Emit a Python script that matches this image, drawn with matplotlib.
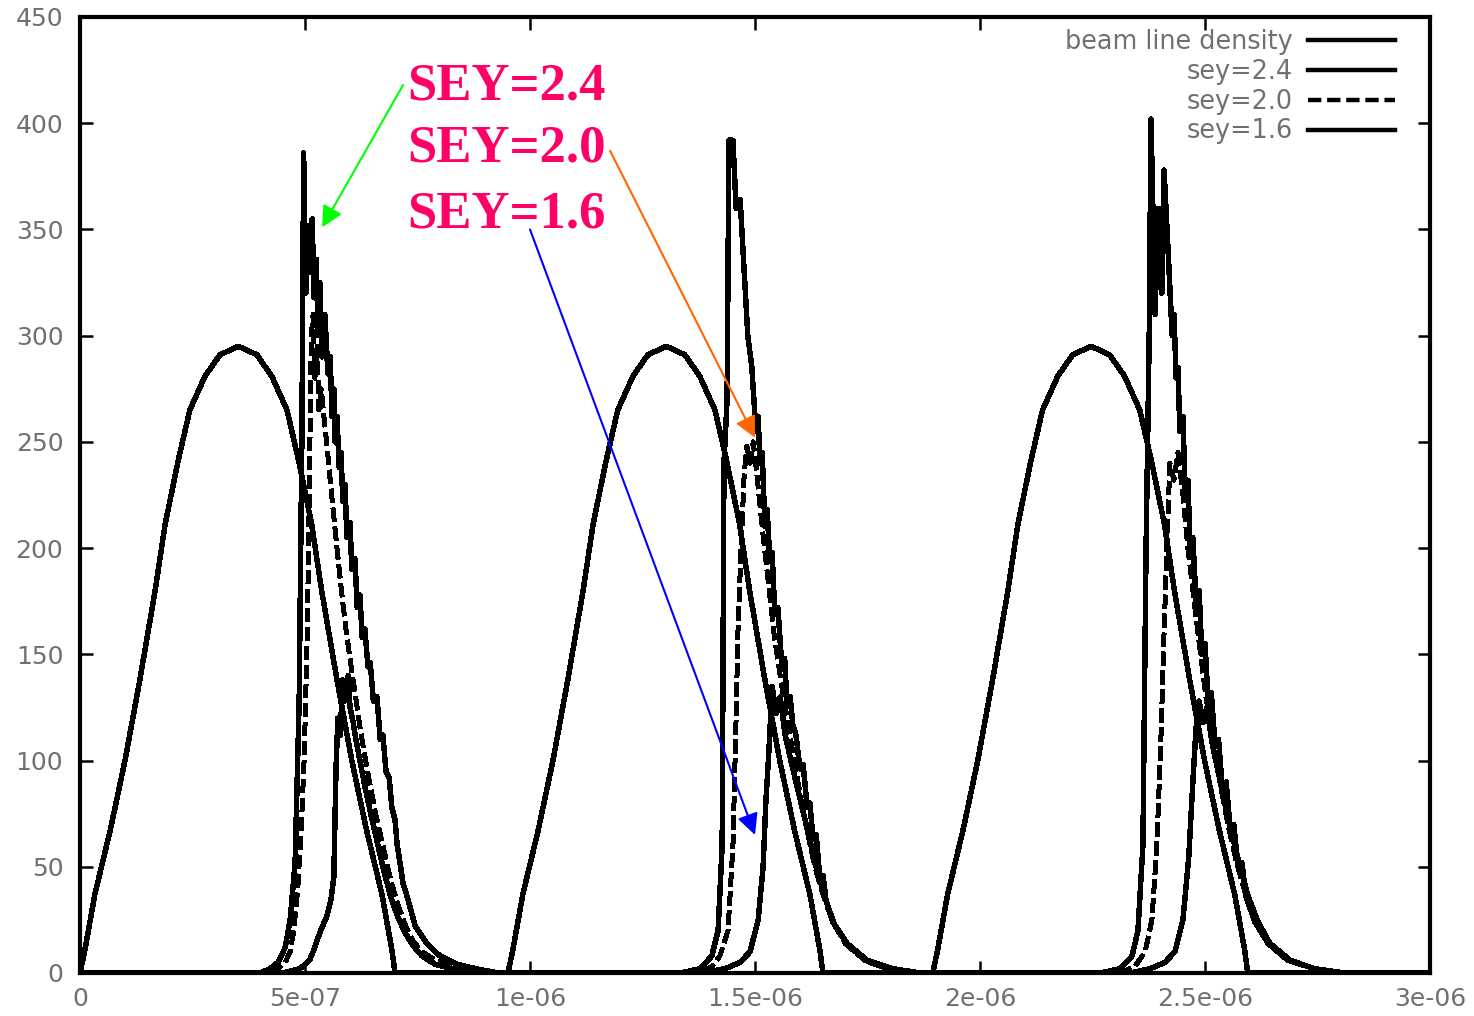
import numpy as np
import matplotlib
matplotlib.use("Agg")
import matplotlib.pyplot as plt

# times in microseconds, line density in arbitrary units
beam_t = [0.000, 0.011, 0.033, 0.067, 0.100, 0.133, 0.167, 0.189, 0.218, 0.244, 0.278, 0.311, 0.352,
          0.393, 0.426, 0.460, 0.486, 0.515, 0.537, 0.571, 0.604, 0.637, 0.671, 0.693, 0.700,
          0.951, 0.962, 0.984, 1.018, 1.051, 1.084, 1.118, 1.140, 1.169, 1.195, 1.229, 1.262, 1.303,
          1.344, 1.377, 1.411, 1.437, 1.466, 1.488, 1.522, 1.555, 1.588, 1.622, 1.644, 1.651,
          1.895, 1.906, 1.928, 1.962, 1.995, 2.028, 2.062, 2.084, 2.113, 2.139, 2.173, 2.206, 2.247,
          2.288, 2.321, 2.355, 2.381, 2.410, 2.432, 2.466, 2.499, 2.532, 2.566, 2.588, 2.595, 3.0]
beam_v = [0, 11, 37, 67, 100, 138, 180, 211, 241, 265, 281, 291, 295,
          291, 281, 265, 241, 211, 180, 138, 100, 67, 37, 11, 0,
          0, 11, 37, 67, 100, 138, 180, 211, 241, 265, 281, 291, 295,
          291, 281, 265, 241, 211, 180, 138, 100, 67, 37, 11, 0,
          0, 11, 37, 67, 100, 138, 180, 211, 241, 265, 281, 291, 295,
          291, 281, 265, 241, 211, 180, 138, 100, 67, 37, 11, 0, 0]

sey24_t = [0.0, 0.400, 0.422, 0.440, 0.456, 0.467, 0.478, 0.487, 0.493, 0.497, 0.502, 0.506, 0.511,
           0.516, 0.520, 0.525, 0.529, 0.533, 0.538, 0.544, 0.551, 0.556, 0.560, 0.564, 0.567, 0.571,
           0.576, 0.580, 0.584, 0.589, 0.593, 0.600, 0.604, 0.611, 0.616, 0.622, 0.627, 0.633, 0.640,
           0.645, 0.652, 0.660, 0.667, 0.673, 0.680, 0.687, 0.693, 0.700, 0.705, 0.711, 0.718, 0.727,
           0.745, 0.770, 0.800, 0.840, 0.880, 0.930,
           1.333, 1.378, 1.404, 1.418, 1.427, 1.431, 1.438, 1.442, 1.451, 1.458, 1.467, 1.476, 1.484,
           1.493, 1.502, 1.507, 1.511, 1.516, 1.522, 1.527, 1.533, 1.538, 1.544, 1.551, 1.560, 1.566,
           1.571, 1.578, 1.584, 1.591, 1.600, 1.607, 1.616, 1.622, 1.629, 1.636, 1.644, 1.651, 1.658,
           1.673, 1.704, 1.749, 1.807, 1.867,
           2.267, 2.311, 2.338, 2.351, 2.362, 2.369, 2.376, 2.380, 2.389, 2.396, 2.404, 2.409, 2.418,
           2.427, 2.431, 2.436, 2.440, 2.444, 2.451, 2.456, 2.462, 2.467, 2.473, 2.480, 2.487, 2.493,
           2.500, 2.507, 2.514, 2.522, 2.530, 2.538, 2.547, 2.556, 2.564, 2.573, 2.582, 2.591,
           2.611, 2.640, 2.684, 2.744, 2.811, 3.0]
sey24_v = [0, 0, 2, 5, 12, 25, 52, 128, 250, 386, 320, 352, 330,
           355, 318, 336, 300, 325, 290, 310, 282, 290, 262, 275, 250, 262,
           238, 245, 222, 230, 205, 212, 190, 195, 172, 178, 158, 162, 144,
           146, 128, 130, 110, 112, 95, 92, 78, 72, 60, 52, 42, 36,
           22, 14, 8, 4, 2, 0,
           0, 2, 8, 20, 60, 240, 270, 392, 392, 360, 364, 330, 300,
           285, 255, 262, 240, 245, 210, 218, 194, 198, 169, 172, 143, 148,
           127, 130, 117, 112, 96, 98, 78, 80, 63, 65, 45, 46, 34,
           24, 14, 6, 2, 0,
           0, 2, 8, 20, 60, 200, 300, 402, 310, 360, 320, 378, 340,
           300, 310, 280, 285, 255, 262, 225, 232, 200, 205, 175, 180, 150,
           155, 128, 132, 108, 110, 88, 90, 68, 70, 50, 52, 36,
           24, 14, 6, 2, 0, 0]

sey20_t = [0.0, 0.420, 0.440, 0.456, 0.467, 0.475, 0.484, 0.492, 0.498, 0.504, 0.508, 0.511, 0.514,
           0.518, 0.522, 0.527, 0.531, 0.536, 0.542, 0.549, 0.556, 0.564, 0.573, 0.582, 0.591, 0.600,
           0.611, 0.622, 0.633, 0.645, 0.658, 0.673, 0.689, 0.705, 0.722, 0.740, 0.760, 0.790, 0.830,
           0.870, 0.920,
           1.378, 1.404, 1.422, 1.440, 1.451, 1.458, 1.462, 1.469, 1.476, 1.482, 1.489, 1.496, 1.504,
           1.516, 1.529, 1.542, 1.556, 1.571, 1.587, 1.602, 1.618, 1.633, 1.651, 1.671, 1.700, 1.744,
           1.800, 1.856,
           2.311, 2.344, 2.367, 2.382, 2.393, 2.402, 2.409, 2.416, 2.422, 2.431, 2.440, 2.451, 2.462,
           2.476, 2.489, 2.502, 2.518, 2.533, 2.551, 2.569, 2.589, 2.611, 2.640, 2.684, 2.744, 2.800, 3.0]
sey20_v = [0, 0, 2, 5, 10, 20, 40, 70, 100, 150, 200, 250, 300,
           310, 280, 295, 265, 275, 262, 248, 232, 215, 196, 178, 162, 148,
           132, 116, 102, 88, 74, 60, 45, 33, 23, 15, 10, 6, 3,
           1, 0,
           0, 3, 8, 20, 60, 120, 160, 200, 235, 248, 240, 250, 235,
           210, 185, 160, 140, 120, 100, 82, 65, 50, 37, 25, 14, 6,
           2, 0,
           0, 3, 10, 25, 60, 110, 160, 205, 240, 232, 245, 225, 200,
           175, 152, 130, 110, 90, 70, 53, 38, 25, 14, 6, 2, 0, 0]

sey16_t = [0.0, 0.450, 0.489, 0.510, 0.518, 0.533, 0.549, 0.558, 0.564, 0.569, 0.573, 0.578, 0.584,
           0.589, 0.596, 0.600, 0.607, 0.613, 0.622, 0.633, 0.645, 0.658, 0.673, 0.689, 0.705, 0.722,
           0.740, 0.760, 0.790, 0.830, 0.870, 0.920,
           1.378, 1.433, 1.467, 1.489, 1.507, 1.518, 1.524, 1.531, 1.538, 1.547, 1.556, 1.567, 1.582,
           1.600, 1.618, 1.636, 1.656, 1.678, 1.711, 1.756, 1.811, 1.856,
           2.333, 2.378, 2.411, 2.433, 2.451, 2.464, 2.473, 2.480, 2.487, 2.496, 2.504, 2.516, 2.529,
           2.544, 2.560, 2.578, 2.596, 2.618, 2.644, 2.689, 2.744, 2.800, 3.0]
sey16_v = [0, 0, 2, 6, 10, 19, 27, 35, 45, 97, 120, 112, 138,
           128, 140, 125, 118, 110, 100, 88, 76, 64, 50, 37, 27, 19,
           13, 8, 4, 2, 1, 0,
           0, 2, 5, 10, 25, 50, 80, 105, 135, 122, 130, 112, 98,
           82, 66, 50, 35, 22, 12, 5, 1, 0,
           0, 2, 5, 10, 25, 55, 90, 115, 128, 118, 125, 108, 95,
           80, 65, 50, 36, 24, 14, 6, 2, 0, 0]

labels = ["beam line density", "sey=2.4", "sey=2.0", "sey=1.6"]
xtick_vals = [0, 5e-07, 1e-06, 1.5e-06, 2e-06, 2.5e-06, 3e-06]
xtick_labels = ["0", "5e-07", "1e-06", "1.5e-06", "2e-06", "2.5e-06", "3e-06"]
ytick_vals = [0, 50, 100, 150, 200, 250, 300, 350, 400, 450]

fig = plt.figure(figsize=(14.74, 10.16), dpi=100)
ax = fig.add_axes([80 / 1474, 43 / 1016, 1350 / 1474, 956 / 1016])

us = 1e-6
lw = 3.2
ax.plot(np.array(beam_t) * us, beam_v, color="black", lw=lw, label=labels[0], antialiased=False)
ax.plot(np.array(sey24_t) * us, sey24_v, color="black", lw=lw, label=labels[1], antialiased=False)
ax.plot(np.array(sey20_t) * us, sey20_v, color="black", lw=lw, label=labels[2],
        linestyle=(0, (3, 1.3)), dash_capstyle="butt", antialiased=False)
ax.plot(np.array(sey16_t) * us, sey16_v, color="black", lw=lw, label=labels[3], antialiased=False)

ax.set_xlim(0, 3e-06)
ax.set_ylim(0, 450)
ax.set_xticks(xtick_vals)
ax.set_xticklabels(xtick_labels)
ax.set_yticks(ytick_vals)
ax.tick_params(direction="in", length=9, width=1.8, top=True, right=True,
               labelsize=18, labelcolor="#707070", color="black")
ax.tick_params(axis="y", pad=12)
ax.tick_params(axis="x", pad=10)
for s in ax.spines.values():
    s.set_linewidth(3)

leg = ax.legend(loc="upper right", bbox_to_anchor=(1395 / 1474, 1 - 29 / 1016),
                bbox_transform=fig.transFigure, frameon=False, markerfirst=False,
                fontsize=18.4, labelcolor="#707070", handlelength=3.4, handletextpad=0.6,
                labelspacing=0.15, borderpad=0, borderaxespad=0)

# annotations
pink = "#ff0066"
tfont = dict(family=["Liberation Serif", "DejaVu Serif"], weight="bold", size=38, color=pink)
ax.text(0.727 * us, 411, "SEY=2.4", va="baseline", ha="left", **tfont)
ax.text(0.727 * us, 382, "SEY=2.0", va="baseline", ha="left", **tfont)
ax.text(0.727 * us, 351, "SEY=1.6", va="baseline", ha="left", **tfont)

for (x0, y0), (x1, y1), c in [((0.718, 418), (0.538, 351), "#00ff00"),
                              ((1.178, 387), (1.500, 252), "#ff6600"),
                              ((1.000, 350), (1.500, 65), "#0000ff")]:
    ax.annotate("", xy=(x1 * us, y1), xytext=(x0 * us, y0),
                arrowprops=dict(arrowstyle="-|>", color=c, lw=1.5, mutation_scale=32,
                                shrinkA=0, shrinkB=0))

fig.savefig("out.png", dpi=100)
